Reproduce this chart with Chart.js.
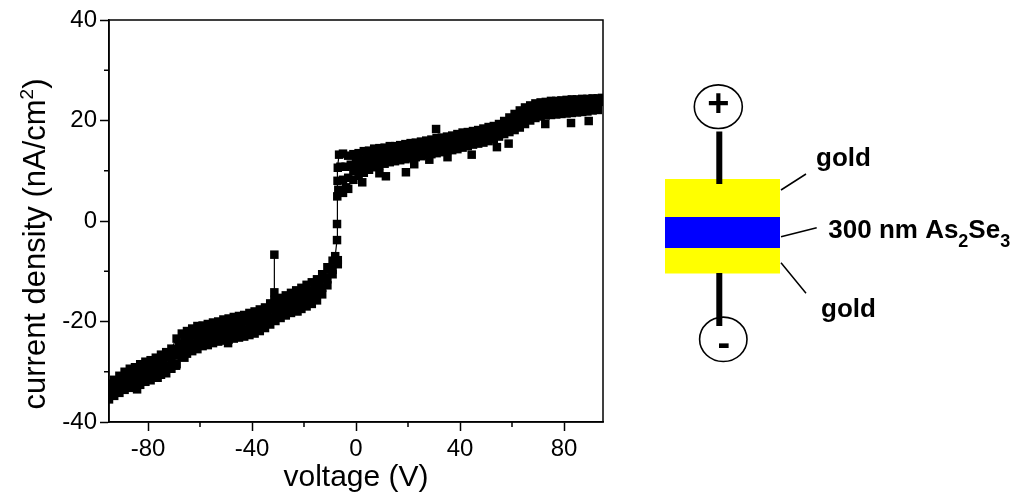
<!DOCTYPE html>
<html>
<head>
<meta charset="utf-8">
<title>Au / As2Se3 / Au current density</title>
<script src="https://cdn.jsdelivr.net/npm/chart.js"></script>
<style>
  html, body { margin: 0; padding: 0; background: #fff; }
  canvas { display: block; }
</style>
</head>
<body>
<canvas id="iv" width="1024" height="501"></canvas>
<script>
// Measured sweep (connected trace), voltage in V, current density in nA/cm^2
const sweepVoltage = [-95,-93,-91,-89,-87,-85,-83,-81,-79,-77,-75,-73,-71,-69,-67,-65,-63,-61,-59,-57,-55,-53,-51,-49,-47,-45,-43,-41,-39,-37,-35,-33,-31.4,-31.4,-31.4,-29,-27,-25,-23,-21,-19,-17,-15,-13,-11,-9,-8,-7.3,-7.3,-7.2,-7.1,-7.0,-6.5,-5,-3,-1,1,3,5,7,9,11,13,15,17,19,21,23,25,27,29,31,33,35,37,39,41,43,45,47,49,51,53,55,57,59,61,63,65,67,69,71,73,75,77,79,81,83,85,87,89,91,93,94.6];
const sweepCurrent = [-32.4,-31.6,-30.8,-30.0,-29.4,-29.1,-28.5,-28.0,-27.7,-27.2,-26.6,-26.1,-25.4,-23.4,-22.4,-21.9,-21.4,-20.9,-20.8,-20.5,-20.2,-20.0,-19.6,-19.4,-19.1,-18.9,-18.7,-18.3,-18.0,-17.6,-17.2,-16.4,-15.7,-6.7,-14.2,-15.3,-14.8,-14.3,-13.8,-13.3,-12.7,-12.2,-11.6,-10.6,-9.2,-7.9,-7.0,-3.8,-0.6,4.9,8.0,10.6,13.2,13.4,13.0,13.3,13.5,13.9,14.0,14.4,14.5,14.6,14.9,14.9,15.1,15.3,15.5,15.6,15.8,16.0,16.2,16.5,16.6,16.8,17.0,17.3,17.6,17.7,17.9,18.1,18.4,18.7,18.9,19.3,19.9,20.6,21.3,22.0,22.6,23.0,23.4,23.6,23.7,23.9,23.9,24.0,24.1,24.2,24.2,24.3,24.3,24.4,24.4,24.5];

// Repeat sweeps (markers only), on odd and even voltage steps
const gridVoltage = [-95,-93,-91,-89,-87,-85,-83,-81,-79,-77,-75,-73,-71,-69,-67,-65,-63,-61,-59,-57,-55,-53,-51,-49,-47,-45,-43,-41,-39,-37,-35,-33,-31,-29,-27,-25,-23,-21,-19,-17,-15,-13,-11,-9,-7,-5,-3,-1,1,3,5,7,9,11,13,15,17,19,21,23,25,27,29,31,33,35,37,39,41,43,45,47,49,51,53,55,57,59,61,63,65,67,69,71,73,75,77,79,81,83,85,87,89,91,93];
const lowerCurrent = [-35.5,-34.8,-34.2,-33.6,-33.2,-32.9,-32.6,-32.0,-31.7,-31.1,-30.6,-30.3,-29.4,-28.5,-27.0,-26.4,-25.9,-25.5,-24.9,-24.7,-24.3,-24.0,-23.8,-23.6,-23.4,-23.2,-23.0,-22.7,-22.4,-21.9,-21.3,-20.6,-19.9,-19.3,-18.8,-18.3,-17.9,-17.5,-17.0,-16.5,-15.8,-14.6,-12.8,-10.6,-8.6,5.6,6.4,8.2,9.0,9.6,10.2,10.7,11.1,11.4,11.7,11.9,12.1,12.3,12.5,12.7,12.9,13.1,13.3,13.5,13.7,13.9,14.1,14.3,14.6,14.9,15.2,15.4,15.6,15.9,16.3,16.8,17.3,17.7,18.1,18.6,19.3,20.0,20.5,20.8,21.0,21.1,21.2,21.3,21.4,21.5,21.6,21.7,21.8,22.0,22.1];
const lowerMidCurrent = [-34.5,-33.7,-33.1,-32.4,-31.9,-31.6,-31.2,-30.7,-30.4,-29.8,-29.3,-28.9,-28.1,-26.8,-25.5,-24.9,-24.4,-24.0,-23.5,-23.3,-22.9,-22.7,-22.4,-22.2,-22.0,-21.8,-21.6,-21.2,-20.9,-20.5,-19.9,-19.2,-18.5,-18.0,-17.5,-17.0,-16.5,-16.1,-15.6,-15.1,-14.4,-13.3,-11.6,-9.7,-7.8,8.2,8.6,9.9,10.5,11.0,11.5,11.9,12.2,12.5,12.8,12.9,13.1,13.3,13.5,13.7,13.9,14.1,14.3,14.5,14.7,14.9,15.1,15.3,15.6,15.8,16.1,16.3,16.5,16.8,17.2,17.6,18.2,18.7,19.2,19.7,20.4,21.0,21.5,21.7,21.9,22.0,22.1,22.2,22.3,22.4,22.5,22.6,22.6,22.8,22.9];
const midVoltage = [-94,-92,-90,-88,-86,-84,-82,-80,-78,-76,-74,-72,-70,-68,-66,-64,-62,-60,-58,-56,-54,-52,-50,-48,-46,-44,-42,-40,-38,-36,-34,-32,-30,-28,-26,-24,-22,-20,-18,-16,-14,-12,-10,-8,-6,-4,-2,0,2,4,6,8,10,12,14,16,18,20,22,24,26,28,30,32,34,36,38,40,42,44,46,48,50,52,54,56,58,60,62,64,66,68,70,72,74,76,78,80,82,84,86,88,90,92,94];
const upperMidCurrent = [-33.0,-32.3,-31.6,-30.9,-30.5,-30.1,-29.6,-29.2,-28.8,-28.2,-27.7,-27.1,-25.9,-24.5,-23.7,-23.2,-22.7,-22.3,-22.0,-21.7,-21.4,-21.2,-21.0,-20.7,-20.4,-20.2,-19.9,-19.6,-19.2,-18.8,-18.2,-17.5,-16.9,-16.4,-15.9,-15.4,-14.9,-14.4,-13.9,-13.3,-12.5,-11.2,-9.6,-7.9,10.8,10.8,11.2,11.8,12.2,12.6,13.0,13.3,13.5,13.7,13.9,14.0,14.2,14.3,14.6,14.7,14.9,15.1,15.4,15.6,15.7,15.9,16.2,16.5,16.7,16.9,17.1,17.3,17.6,17.9,18.3,18.8,19.5,19.9,20.5,21.2,21.8,22.2,22.6,22.7,22.9,23.0,23.1,23.2,23.3,23.3,23.4,23.5,23.5,23.6,23.7];

// Isolated readings away from the main band
const strayVoltage = [-84.2,-76.3,-69.2,-66.0,-49.2,-27.6,-22.5,-6.8,-3.8,2.4,9.0,11.5,19.2,22.4,28.2,30.8,35.2,44.5,54.2,58.7,72.8,82.7,89.5];
const strayCurrent = [-33.5,-31.2,-28.8,-27.2,-24.3,-18.6,-18.0,6.2,6.7,7.7,9.5,8.9,9.7,11.3,12.2,18.3,12.7,13.2,14.7,15.4,19.3,19.5,19.9];

// Axis ticks
const voltageTicks = [-80, -40, 0, 40, 80];
const voltageMinorTicks = [-60, -20, 20, 60];
const currentTicks = [-40, -20, 0, 20, 40];
const currentMinorTicks = [-30, -10, 10, 30];

const FONT = "'Liberation Sans', Arial, Helvetica, sans-serif";

const pairs = (xs, ys) => xs.map((x, i) => ({ x, y: ys[i] }));

const markerStyle = {
  pointStyle: 'rect',
  pointRadius: 6,
  pointHoverRadius: 6,
  pointBorderWidth: 0,
  pointBackgroundColor: '#000',
  borderColor: '#000',
  clip: 0
};

// Frame, minor ticks, y-axis title and the device sketch
const figureDecor = {
  id: 'figureDecor',
  afterDraw(chart) {
    const { ctx, chartArea: a, scales: { x, y } } = chart;
    ctx.save();
    ctx.strokeStyle = '#000';
    ctx.lineWidth = 1.5;
    ctx.strokeRect(a.left, a.top, a.right - a.left, a.bottom - a.top);

    ctx.beginPath();
    currentMinorTicks.forEach(v => {
      const py = y.getPixelForValue(v);
      ctx.moveTo(a.left - 5, py); ctx.lineTo(a.left, py);
    });
    voltageMinorTicks.forEach(v => {
      const px = x.getPixelForValue(v);
      ctx.moveTo(px, a.bottom); ctx.lineTo(px, a.bottom + 5);
    });
    ctx.stroke();

    // y-axis title with superscript
    ctx.save();
    ctx.translate(44.5, 244);
    ctx.rotate(-Math.PI / 2);
    ctx.fillStyle = '#000';
    ctx.textBaseline = 'alphabetic';
    ctx.textAlign = 'left';
    const mainFont = '31px ' + FONT, supFont = '19px ' + FONT;
    const t1 = 'current density (nA/cm', t2 = '2', t3 = ')';
    ctx.font = mainFont; const w1 = ctx.measureText(t1).width, w3 = ctx.measureText(t3).width;
    ctx.font = supFont; const w2 = ctx.measureText(t2).width;
    let sx = -(w1 + w2 + w3) / 2;
    ctx.font = mainFont; ctx.fillText(t1, sx, 0); sx += w1;
    ctx.font = supFont; ctx.fillText(t2, sx, -11.5); sx += w2;
    ctx.font = mainFont; ctx.fillText(t3, sx, 0);
    ctx.restore();

    // device: gold / As2Se3 / gold stack
    ctx.fillStyle = '#ffff00';
    ctx.fillRect(665, 179, 115, 38);
    ctx.fillRect(665, 248, 115, 25.5);
    ctx.fillStyle = '#0000ff';
    ctx.fillRect(665, 217, 115, 31);

    ctx.strokeStyle = '#000';
    ctx.lineWidth = 6;
    ctx.beginPath();
    ctx.moveTo(719.3, 131.5); ctx.lineTo(719.3, 184);
    ctx.moveTo(719.3, 273); ctx.lineTo(719.3, 326);
    ctx.stroke();

    ctx.lineWidth = 1.6;
    ctx.beginPath();
    ctx.ellipse(718.3, 106.7, 24, 21.8, 0, 0, Math.PI * 2);
    ctx.stroke();
    ctx.beginPath();
    ctx.ellipse(723.3, 339.3, 23.7, 22.2, 0, 0, Math.PI * 2);
    ctx.stroke();

    ctx.lineWidth = 1.5;
    ctx.beginPath();
    ctx.moveTo(781, 190); ctx.lineTo(806, 174);
    ctx.moveTo(781, 236.7); ctx.lineTo(816.7, 227.7);
    ctx.moveTo(781, 262.7); ctx.lineTo(806, 293.3);
    ctx.stroke();

    ctx.fillStyle = '#000';
    ctx.textAlign = 'center';
    ctx.textBaseline = 'alphabetic';
    ctx.font = 'bold 38px ' + FONT;
    ctx.fillText('+', 718.3, 116);
    ctx.fillText('-', 723.8, 356);

    ctx.textAlign = 'left';
    const bold = 'bold 26px ' + FONT, sub = 'bold 18px ' + FONT;
    ctx.font = bold;
    ctx.fillText('gold', 816, 165.5);
    ctx.fillText('gold', 821, 317);
    let lx = 828.3;
    const parts = [['300 nm As', bold, 238.3], ['2', sub, 246.7], ['Se', bold, 238.3], ['3', sub, 246.7]];
    parts.forEach(([s, f, by]) => { ctx.font = f; ctx.fillText(s, lx, by); lx += ctx.measureText(s).width; });
    ctx.restore();
  }
};

new Chart(document.getElementById('iv'), {
  type: 'scatter',
  data: {
    datasets: [
      Object.assign({ data: pairs(gridVoltage, lowerCurrent), showLine: false }, markerStyle),
      Object.assign({ data: pairs(gridVoltage, lowerMidCurrent), showLine: false }, markerStyle),
      Object.assign({ data: pairs(midVoltage, upperMidCurrent), showLine: false }, markerStyle),
      Object.assign({ data: pairs(strayVoltage, strayCurrent), showLine: false }, markerStyle),
      Object.assign({ data: pairs(sweepVoltage, sweepCurrent), showLine: true, borderWidth: 1.2, tension: 0 }, markerStyle)
    ]
  },
  options: {
    responsive: false,
    animation: false,
    events: [],
    layout: { padding: { top: 20, right: 421, left: 0, bottom: 0 } },
    plugins: { legend: { display: false }, tooltip: { enabled: false } },
    scales: {
      x: {
        type: 'linear',
        min: -95, max: 95,
        afterBuildTicks: s => { s.ticks = voltageTicks.map(v => ({ value: v })); },
        afterFit: s => { s.height = 79; },
        ticks: { font: { family: FONT, size: 24 }, color: '#000', padding: 4, maxRotation: 0, autoSkip: false },
        grid: { drawOnChartArea: false, tickLength: 9, color: '#000', tickWidth: 1.5 },
        border: { display: true, color: '#000', width: 1.5 },
        title: { display: true, text: 'voltage (V)', color: '#000', font: { family: FONT, size: 30 }, padding: { top: 0, bottom: 5 } }
      },
      y: {
        type: 'linear',
        min: -40, max: 40,
        afterBuildTicks: s => { s.ticks = currentTicks.map(v => ({ value: v })); },
        afterFit: s => { s.width = 109; },
        ticks: { font: { family: FONT, size: 24 }, color: '#000', padding: 3, autoSkip: false },
        grid: { drawOnChartArea: false, tickLength: 9, color: '#000', tickWidth: 1.5 },
        border: { display: true, color: '#000', width: 1.5 }
      }
    }
  },
  plugins: [figureDecor]
});
</script>
</body>
</html>
